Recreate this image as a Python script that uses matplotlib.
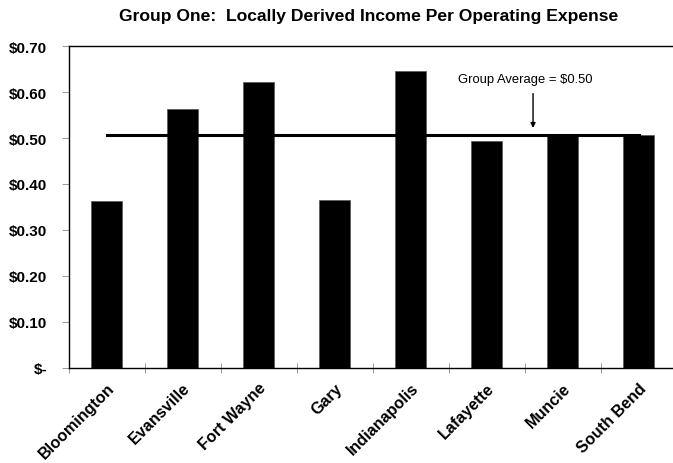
import matplotlib
matplotlib.use("Agg")
import matplotlib.pyplot as plt
import matplotlib.transforms as mtransforms
from matplotlib.ticker import FuncFormatter

plt.rcParams['font.family'] = ['Liberation Sans', 'DejaVu Sans']

cities = ["Bloomington", "Evansville", "Fort Wayne", "Gary",
          "Indianapolis", "Lafayette", "Muncie", "South Bend"]
income_ratio = [0.363, 0.563, 0.622, 0.365, 0.646, 0.493, 0.504, 0.507]
group_average = 0.507
average_label = "Group Average = $0.50"
y_ticks = [0.0, 0.1, 0.2, 0.3, 0.4, 0.5, 0.6, 0.7]


def money(v, pos):
    # accounting style: zero shows as a dash
    if abs(v) < 1e-9:
        return "$-"
    return f"${v:.2f}"


fig = plt.figure(figsize=(6.73, 4.64), dpi=100)
ax = fig.add_axes([0.102, 0.2058, 0.9035, 0.6922])

x = list(range(len(cities)))
ax.bar(x, income_ratio, width=0.41, color="black", edgecolor="#555555", linewidth=0.5, zorder=2)

# group average line from first to last bar centre
ax.plot([x[0], x[-1]], [group_average, group_average], color="black", linewidth=2.2, zorder=3)

ax.annotate("", xy=(5.61, 0.522), xytext=(5.61, 0.597),
            arrowprops=dict(arrowstyle="-|>", color="black", lw=1.0,
                            mutation_scale=7, shrinkA=0, shrinkB=0))
ax.text(5.51, 0.628, average_label, ha="center", va="center", fontsize=9.4)

ax.set_xlim(-0.5, len(cities) - 0.5)
ax.set_ylim(0, 0.7)
ax.set_yticks(y_ticks)
ax.yaxis.set_major_formatter(FuncFormatter(money))

# category ticks sit on the boundaries, labels at the centres
ax.set_xticks([i - 0.5 for i in range(len(cities) + 1)])
ax.set_xticklabels([])
ax.set_xticks(x, minor=True)
ax.set_xticklabels(cities, minor=True, rotation=45, ha="right",
                   rotation_mode="anchor", fontsize=11.6, fontweight="bold")
shift = mtransforms.ScaledTranslation(-4 / 100, 0, fig.dpi_scale_trans)
for lbl in ax.get_xticklabels(minor=True):
    lbl.set_transform(lbl.get_transform() + shift)
ax.tick_params(axis="x", which="minor", length=0, pad=9)
ax.tick_params(axis="x", which="major", direction="inout", length=7, color="#888888", width=0.6)
ax.tick_params(axis="y", direction="out", length=5, color="#888888", width=0.6,
               labelsize=11, pad=10.5)
for lbl in ax.get_yticklabels():
    lbl.set_fontweight("bold")

for side in ["left", "top", "bottom"]:
    ax.spines[side].set_color("black")
    ax.spines[side].set_linewidth(1.0)
ax.spines["right"].set_visible(False)

fig.text(0.5475, 0.964, "Group One:  Locally Derived Income Per Operating Expense",
         ha="center", va="center", fontsize=12.6, fontweight="bold")

fig.savefig("out.png", dpi=100)
